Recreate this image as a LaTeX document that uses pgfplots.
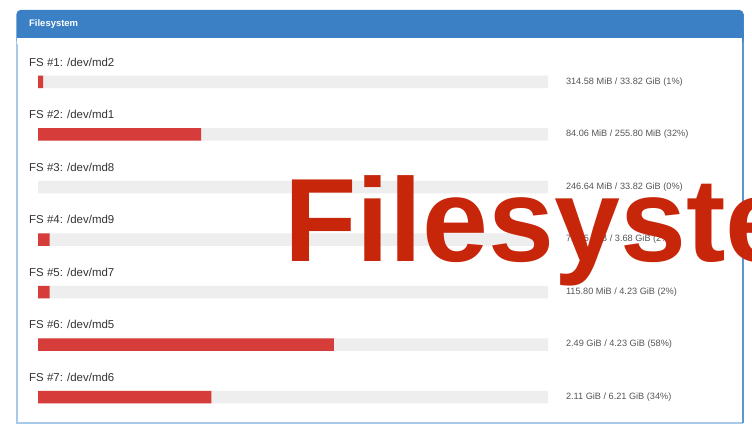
\documentclass[border=0pt]{standalone}
\usepackage{pgfplots}
\pgfplotsset{compat=1.18}
\usepackage{fontspec}
\setmainfont{Liberation Sans}
\definecolor{hdr}{HTML}{3B7FC4}
\definecolor{bordL}{HTML}{A9C9EA}
\definecolor{bordR}{HTML}{5B97D3}
\definecolor{track}{HTML}{EEEEEE}
\definecolor{barred}{HTML}{D63C3A}
\definecolor{bigred}{HTML}{C8260A}
\definecolor{lbl}{HTML}{333333}
\definecolor{lbl2}{HTML}{555555}
\pgfplotstableread{
idx pct total
1 1 100
2 32 100
4 2.3 100
5 2.3 100
6 58 100
7 34 100
}\fsdata
\pgfplotstableread{
idx total
1 100
2 100
3 100
4 100
5 100
6 100
7 100
}\trackdata
\begin{document}
\begin{tikzpicture}
\useasboundingbox (0,0) rectangle (752bp,425bp);
\clip (0,0) rectangle (752bp,425bp);
\fill[white] (0,0) rectangle (752bp,425bp);
\begin{scope}[x=1bp,y=-1bp,yshift=425bp]
  \fill[white] (17,10) rectangle (743,423);
  \draw[bordL,line width=1.2bp] (17,14) -- (17,423) -- (743,423);
  \draw[bordR,line width=1.5bp] (743,14) -- (743,423);
  \fill[hdr,rounded corners=4bp] (16.5,10) rectangle (743.5,44);
  \fill[hdr] (16.5,30) rectangle (743.5,38);
  \fill[white] (17.1,38) rectangle (742.3,44);
  \node[anchor=west,text=white,font=\fontsize{9.5}{11}\selectfont\bfseries,inner sep=0] at (29,24) {Filesystem};
\end{scope}
\begin{axis}[
  at={(0,0)}, anchor=south west,
  scale only axis, width=752bp, height=425bp,
  axis lines=none, ticks=none,
  xmin=-7.451, xmax=140.0,
  ymin=-0.5619, ymax=7.5333, y dir=reverse,
  xbar, bar shift=0pt, bar width=12.5bp,
]
\addplot[fill=track, draw=none] table[x=total,y=idx] {\trackdata};
\addplot[fill=barred, draw=none] table[x=pct,y=idx] {\fsdata};
\foreach \i/\name in {1/md2,2/md1,3/md8,4/md9,5/md7,6/md5,7/md6}{
  \edef\tmp{\noexpand\node[anchor=west,inner sep=0,text=lbl,font=\noexpand\fontsize{11.5}{13}\noexpand\selectfont] at (axis cs:-1.765,{\i-0.381}) {FS \noexpand\#\i: /dev/\name};}
  \tmp
}
\node[anchor=west,inner sep=0,text=lbl2,font=\fontsize{9.2}{11}\selectfont] at (axis cs:103.5,1) {314.58 MiB / 33.82 GiB (1\%)};
\node[anchor=west,inner sep=0,text=lbl2,font=\fontsize{9.2}{11}\selectfont] at (axis cs:103.5,2) {84.06 MiB / 255.80 MiB (32\%)};
\node[anchor=west,inner sep=0,text=lbl2,font=\fontsize{9.2}{11}\selectfont] at (axis cs:103.5,3) {246.64 MiB / 33.82 GiB (0\%)};
\node[anchor=west,inner sep=0,text=lbl2,font=\fontsize{9.2}{11}\selectfont] at (axis cs:103.5,4) {71.65 MiB / 3.68 GiB (2\%)};
\node[anchor=west,inner sep=0,text=lbl2,font=\fontsize{9.2}{11}\selectfont] at (axis cs:103.5,5) {115.80 MiB / 4.23 GiB (2\%)};
\node[anchor=west,inner sep=0,text=lbl2,font=\fontsize{9.2}{11}\selectfont] at (axis cs:103.5,6) {2.49 GiB / 4.23 GiB (58\%)};
\node[anchor=west,inner sep=0,text=lbl2,font=\fontsize{9.2}{11}\selectfont] at (axis cs:103.5,7) {2.11 GiB / 6.21 GiB (34\%)};
\end{axis}
\begin{scope}[x=1bp,y=-1bp,yshift=425bp]
  \node[anchor=base west,inner sep=0,text=bigred,font=\fontsize{119}{120}\selectfont\bfseries] at (284,262) {Filesyste};
\end{scope}
\end{tikzpicture}
\end{document}
